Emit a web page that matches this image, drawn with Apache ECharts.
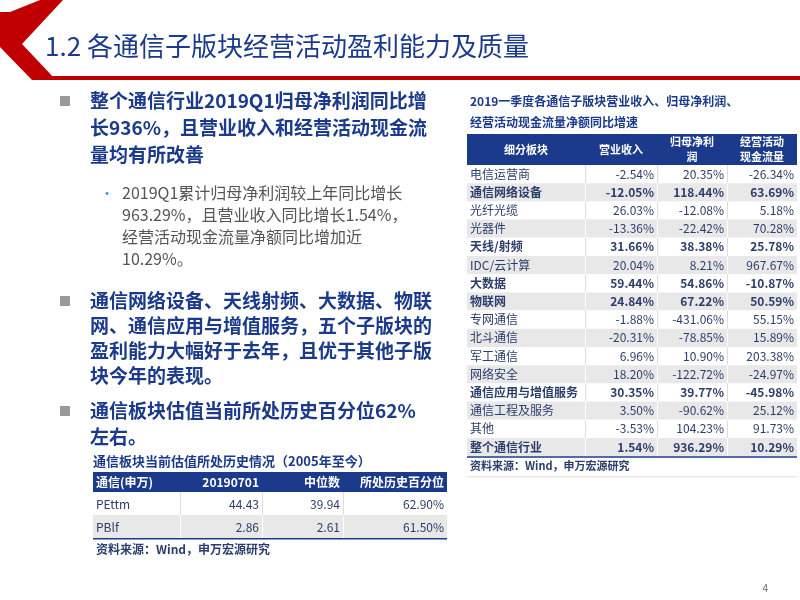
<!DOCTYPE html>
<html><head><meta charset="utf-8">
<script src="https://cdn.jsdelivr.net/npm/echarts@6/dist/echarts.min.js"></script>
<style>html,body{margin:0;padding:0;background:#fff}#c{width:800px;height:600px}</style>
</head><body><div id="c"></div>
<script>
var slideTitle = '1.2 各通信子版块经营活动盈利能力及质量';
var bullet1 = ['整个通信行业2019Q1归母净利润同比增','长936%，且营业收入和经营活动现金流','量均有所改善'];
var sub1 = ['2019Q1累计归母净利润较上年同比增长','963.29%，且营业收入同比增长1.54%，','经营活动现金流量净额同比增加近','10.29%。'];
var bullet2 = ['通信网络设备、天线射频、大数据、物联','网、通信应用与增值服务，五个子版块的','盈利能力大幅好于去年，且优于其他子版','块今年的表现。'];
var bullet3 = ['通信板块估值当前所处历史百分位62%','左右。'];
var rTitle = ['2019一季度各通信子版块营业收入、归母净利润、','经营活动现金流量净额同比增速'];
var rHeader = [['细分板块'],['营业收入'],['归母净利','润'],['经营活动','现金流量']];
var sectors = ['电信运营商','通信网络设备','光纤光缆','光器件','天线/射频','IDC/云计算','大数据','物联网','专网通信','北斗通信','军工通信','网络安全','通信应用与增值服务','通信工程及服务','其他','整个通信行业'];
var revenue = ['-2.54%','-12.05%','26.03%','-13.36%','31.66%','20.04%','59.44%','24.84%','-1.88%','-20.31%','6.96%','18.20%','30.35%','3.50%','-3.53%','1.54%'];
var profit = ['20.35%','118.44%','-12.08%','-22.42%','38.38%','8.21%','54.86%','67.22%','-431.06%','-78.85%','10.90%','-122.72%','39.77%','-90.62%','104.23%','936.29%'];
var cashflow = ['-26.34%','63.69%','5.18%','70.28%','25.78%','967.67%','-10.87%','50.59%','55.15%','15.89%','203.38%','-24.97%','-45.98%','25.12%','91.73%','10.29%'];
var boldRows = [1,4,6,7,12,15];
var source = '资料来源：Wind，申万宏源研究';
var lTitle = '通信板块当前估值所处历史情况（2005年至今）';
var lHeader = ['通信(申万)','20190701','中位数','所处历史百分位'];
var lRows = [['PEttm','44.43','39.94','62.90%'],['PBlf','2.86','2.61','61.50%']];

(function(){
var NAVY='#1b3a8c', TXT='#2b3d6b', G=[];
function t(x,y,s,o){o=o||{};G.push({type:'text',x:x,y:y,style:{text:s,fill:o.c||TXT,font:(o.b?'bold ':'')+(o.f||12)+'px "Noto Sans CJK SC",sans-serif',align:o.a||'left',verticalAlign:'middle'}});}
function r(x,y,w,h,c){G.push({type:'rect',shape:{x:x,y:y,width:w,height:h},style:{fill:c}});}
G.push({type:'polygon',shape:{points:[[40,0],[63,0],[22,44],[56,80],[32,80],[0,47],[0,12],[10,12]]},style:{fill:'#c00000'}});
r(50,76,750,4,'#c00000');
t(45,46,slideTitle,{c:NAVY,f:26});
function bul(y,lines,lh){r(60,y-5,10,10,'#999');lines.forEach(function(s,i){t(90,y+i*lh,s,{c:NAVY,f:19,b:true});});}
bul(101,bullet1,27);
t(100,193,'•',{c:'#29a3d6',f:14});
sub1.forEach(function(s,i){t(122,193+i*22,s,{c:'#555',f:16});});
bul(301,bullet2,25);
bul(411,bullet3,26);
rTitle.forEach(function(s,i){t(470,101+i*21,s,{c:NAVY,f:12,b:true});});
var cx=[467,585,657,727,797], ty=134, hh=31, rh=18.2;
r(467,ty,330,hh,NAVY);
rHeader.forEach(function(h,j){var mx=(cx[j]+cx[j+1])/2;h.forEach(function(s,k){t(mx,ty+(h.length==1?hh/2:8+k*15),s,{c:'#fff',f:11,b:true,a:'center'});});});
sectors.forEach(function(s,i){
  var y=ty+hh+i*rh;
  r(467,y,330,rh,i%2?'#e8e8e8':'#ffffff');
  for(var j=1;j<4;j++) r(cx[j],y,1,rh,i%2?'#fff':'#ddd');
  var b=boldRows.indexOf(i)>=0, yc=y+rh/2;
  t(470,yc,s,{b:b,f:12});
  t(654,yc,revenue[i],{b:b,a:'right'});
  t(724,yc,profit[i],{b:b,a:'right'});
  t(794,yc,cashflow[i],{b:b,a:'right'});
});
var sy=ty+hh+sectors.length*rh;
r(467,sy,330,1.5,NAVY);
t(470,sy+10,source,{b:true,f:11});
r(467,sy+20,330,1,'#ddd');
t(93,461,lTitle,{c:NAVY,f:13,b:true});
var lx=[93,180,262,343,447], lt=472;
r(93,lt,354,20,NAVY);
var la=['left','right','right','right'];
lHeader.forEach(function(s,j){t(j==0?96:lx[j+1]-3,lt+10,s,{c:'#fff',f:12,b:true,a:la[j]});});
lRows.forEach(function(row,i){var y=lt+20+i*23;r(93,y,354,23,i?'#e8e8e8':'#fff');
  for(var j=1;j<4;j++) r(lx[j],y,1,23,i?'#fff':'#ddd');
  row.forEach(function(s,j){t(j==0?96:lx[j+1]-3,y+12,s,{a:la[j],f:12});});});
r(93,538,354,1.5,NAVY);
t(96,549,source,{b:true,f:12});
t(768,588,'4',{c:'#666',f:10,a:'right'});
var ch=echarts.init(document.getElementById('c'));
ch.setOption({graphic:{elements:G}});
})();
</script></body></html>
